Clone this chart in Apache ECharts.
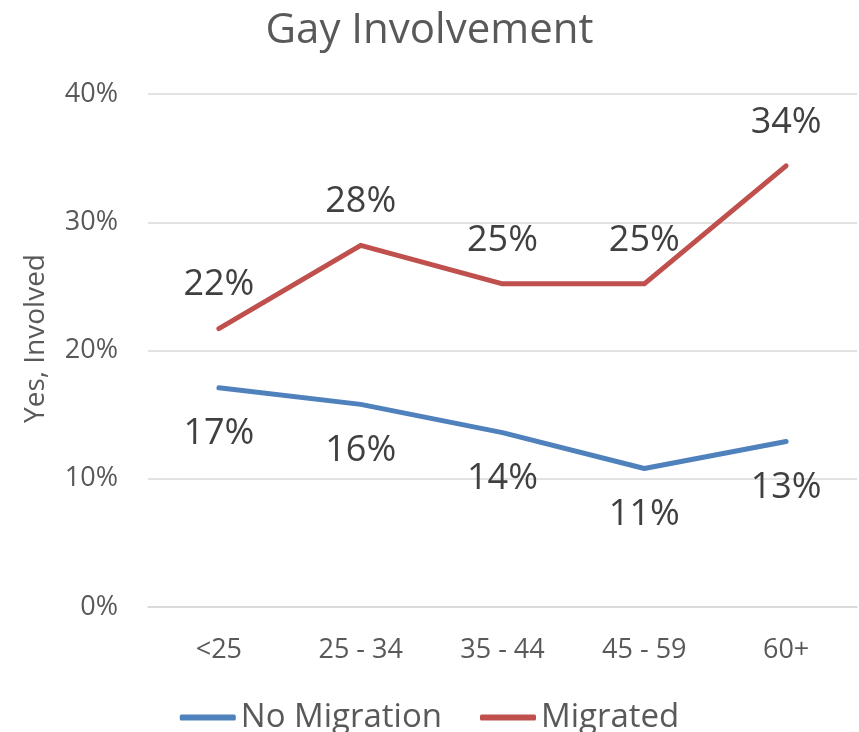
<!DOCTYPE html>
<html>
<head>
<meta charset="utf-8">
<title>Gay Involvement</title>
<script src="https://cdn.jsdelivr.net/npm/echarts@6/dist/echarts.min.js"></script>
<style>
    html, body { margin: 0; padding: 0; background: #fff; }
    #chart { width: 859px; height: 732px; }
</style>
</head>
<body>
<div id="chart"></div>
<script>
// age groups on the x axis
const ageGroups = ['<25', '25 - 34', '35 - 44', '45 - 59', '60+']
// share answering "yes, involved", in percent
const noMigration = [17.1, 15.8, 13.6, 10.8, 12.9]
const migrated = [21.7, 28.2, 25.2, 25.2, 34.4]
const yTicks = [0, 10, 20, 30, 40]

const fontFamily = '"Open Sans", "Noto Sans", sans-serif'
const chart = echarts.init(document.getElementById('chart'))

function lineSeries(name, data, color, labelPos, labelDist) {
    return {
        name: name,
        type: 'line',
        data: data,
        symbol: 'circle',
        symbolSize: 1,
        showSymbol: true,
        lineStyle: { color: color, width: 5, cap: 'round', join: 'round' },
        itemStyle: { color: color },
        label: {
            show: true,
            position: labelPos,
            distance: labelDist,
            fontFamily: fontFamily,
            fontSize: 36,
            color: '#404040',
            formatter: p => Math.round(p.value) + '%',
        },
        emphasis: { disabled: true },
        animation: false,
    }
}

chart.setOption({
    title: {
        text: 'Gay Involvement',
        left: 'center',
        top: 5,
        textStyle: {
            fontFamily: fontFamily,
            fontSize: 42,
            fontWeight: 'normal',
            color: '#595959',
        },
    },
    legend: {
        data: ['No Migration', 'Migrated'],
        left: 'center',
        top: 696,
        icon: 'roundRect',
        itemWidth: 56,
        itemHeight: 6,
        itemGap: 38,
        textStyle: {
            fontFamily: fontFamily,
            fontSize: 33,
            color: '#595959',
        },
    },
    grid: {
        left: 148,
        right: 2,
        top: 94,
        bottom: 125,
    },
    xAxis: {
        type: 'category',
        data: ageGroups,
        boundaryGap: true,
        axisTick: { show: false },
        axisLine: { lineStyle: { color: '#D9D9D9', width: 1.5 } },
        axisLabel: {
            margin: 30,
            fontFamily: fontFamily,
            fontSize: 27,
            color: '#595959',
        },
    },
    yAxis: {
        type: 'value',
        min: yTicks[0],
        max: yTicks[yTicks.length - 1],
        interval: 10,
        name: 'Yes, Involved',
        nameLocation: 'middle',
        nameGap: 98,
        nameTextStyle: {
            fontFamily: fontFamily,
            fontSize: 28,
            color: '#595959',
            padding: [0, 0, 0, 24],
        },
        axisLine: { show: false },
        axisTick: { show: false },
        axisLabel: {
            margin: 30,
            fontFamily: fontFamily,
            fontSize: 27,
            color: '#595959',
            formatter: '{value}%',
        },
        splitLine: { lineStyle: { color: '#D9D9D9', width: 1.5 } },
    },
    series: [
        lineSeries('No Migration', noMigration, '#4F81BD', 'bottom', 28),
        lineSeries('Migrated', migrated, '#C0504D', 'top', 25),
    ],
})
</script>
</body>
</html>
